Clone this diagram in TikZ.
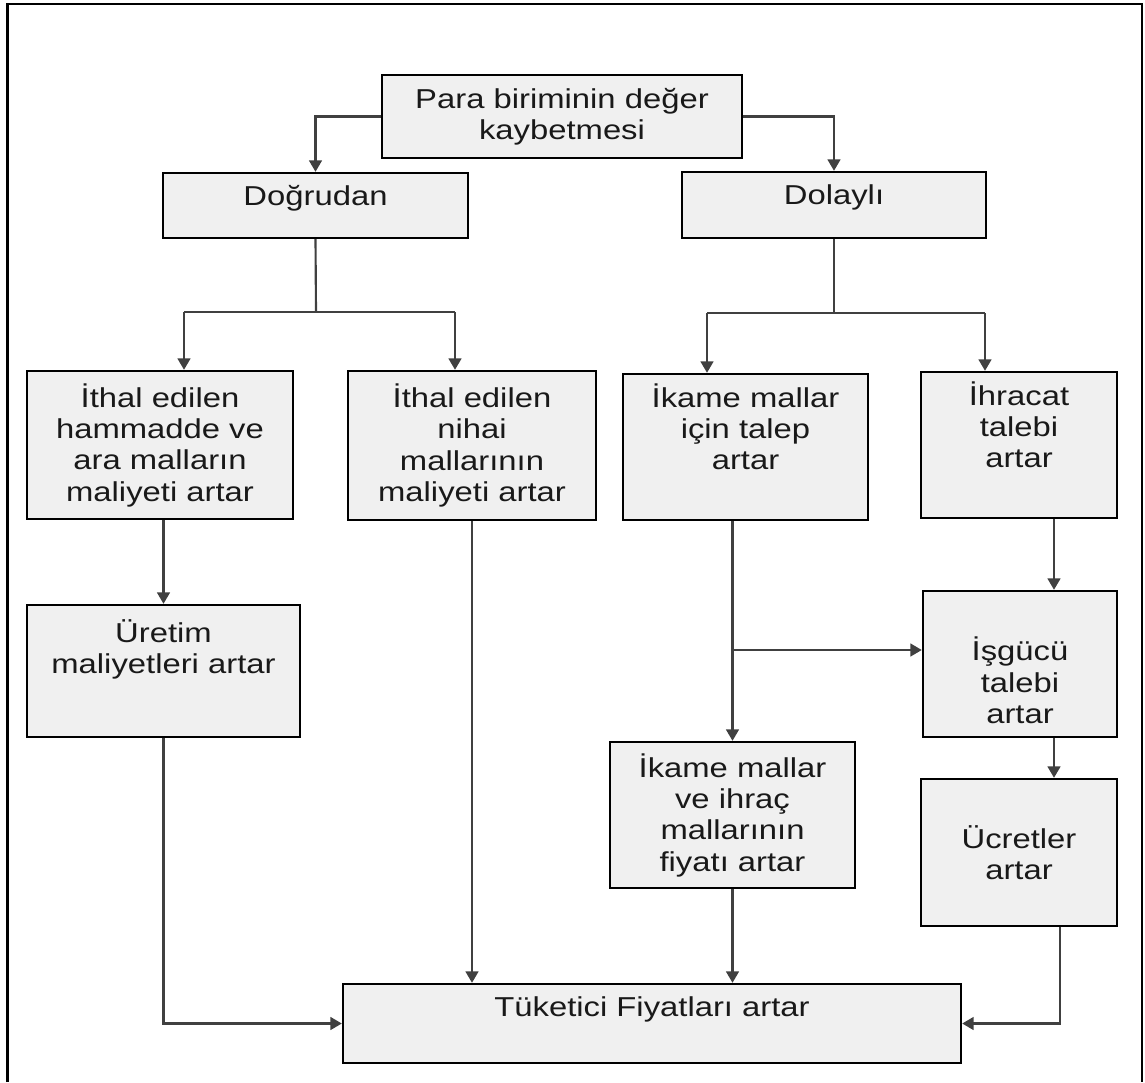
\documentclass[tikz,border=0pt]{standalone}
\usepackage{fontspec}
\setmainfont{Liberation Sans}[FakeStretch = 1.2]
\usetikzlibrary{arrows.meta}
\tikzstyle{box}=[draw, line width = 1.8pt, fill = black!6, align = center, inner sep = .1cm, text = black!90, font = \fontsize{20.5pt}{23.5pt}\selectfont]
\tikzstyle{con}=[line width = 1.6pt, color = black!75]
\tikzstyle{arr}=[con, -{Triangle[length = 8.5pt, width = 9.5pt]}]
\tikzset{sz/.style 2 args = {minimum width = #1*.75pt, minimum height = #2*.75pt}}

\begin{document}
\begin{tikzpicture}[x = .75pt, y = -.75pt]
\useasboundingbox (0,0) rectangle (1145,1082);
\draw [line width = 2pt] (7.5,1082) -- (7.5,4) -- (1142,4) -- (1142,1082);
\node (para) at (562,116.5) [box, sz = {360}{83}] {Para biriminin değer\\kaybetmesi};
\node (dogru) at (315.5,205.5) [box, sz = {305}{65}, text depth = 15.5pt] {Doğrudan};
\node (dolayli) at (834,205) [box, sz = {304}{66}, text depth = 15.5pt] {Dolaylı};
\node (ithalA) at (160,445) [box, sz = {266}{148}] {İthal edilen\\hammadde ve\\ara malların\\maliyeti artar};
\node (ithalB) at (472,445.5) [box, sz = {248}{149}] {İthal edilen\\nihai\\mallarının\\maliyeti artar};
\node (ikame) at (745.5,447) [box, sz = {245}{146}] {İkame mallar\\için talep\\artar\\\strut};
\node (ihracat) at (1019,445) [box, sz = {196}{146}] {İhracat\\talebi\\artar\\\strut};
\node (uretim) at (163.5,671) [box, sz = {273}{132}] {Üretim\\maliyetleri artar\\[6pt]\strut};
\node (isgucu) at (1020,664) [box, sz = {194}{146}] {\strut\\İşgücü\\talebi\\artar};
\node (ikame2) at (732.5,815) [box, sz = {245}{146}] {İkame mallar\\ve ihraç\\mallarının\\fiyatı artar};
\node (ucret) at (1019,852.5) [box, sz = {196}{147}] {Ücretler\\artar};
\node (tuketici) at (652,1023.5) [box, sz = {618}{79}, text depth = 24.75pt] {Tüketici Fiyatları artar};
%%%%%%%%%%%%%%%%%%%%%%%
\coordinate (dsplit) at (316,312);
\coordinate (dleft) at (184,312);
\coordinate (dright) at (455,312);
\coordinate (isplit) at (834,313);
\coordinate (ileft) at (707,313);
\coordinate (iright) at (985,313);
\coordinate (kbranch) at (732.5,650);
\coordinate (rlane) at (1054,0);
\coordinate (wlane) at (1060,0);
%%%%%%%%%%%%%%%%%%%%%%%
\draw [arr] (para.west) -| (dogru.north);
\draw [arr] (para.east) -| (dolayli.north);
\draw [con] (dogru.south) -- (dsplit);
\draw [con] (dleft) -- (dright);
\draw [arr] (dleft) -- (dleft |- ithalA.north);
\draw [arr] (dright) -- (dright |- ithalB.north);
\draw [con] (dolayli.south) -- (isplit);
\draw [con] (ileft) -- (iright);
\draw [arr] (ileft) -- (ileft |- ikame.north);
\draw [arr] (iright) -- (iright |- ihracat.north);
\draw [arr] (ithalA.south -| uretim.north) -- (uretim.north);
\draw [arr] (ithalB.south) -- (ithalB.south |- tuketici.north);
\draw [arr] (ikame.south -| ikame2.north) -- (ikame2.north);
\draw [arr] (kbranch) -- (kbranch -| isgucu.west);
\draw [arr] (ihracat.south -| rlane) -- (isgucu.north -| rlane);
\draw [arr] (isgucu.south -| rlane) -- (ucret.north -| rlane);
\draw [arr] (ikame2.south) -- (ikame2.south |- tuketici.north);
\draw [arr] (uretim.south) |- (tuketici.west);
\draw [arr] (ucret.south -| wlane) |- (tuketici.east);
\end{tikzpicture}
\end{document}
